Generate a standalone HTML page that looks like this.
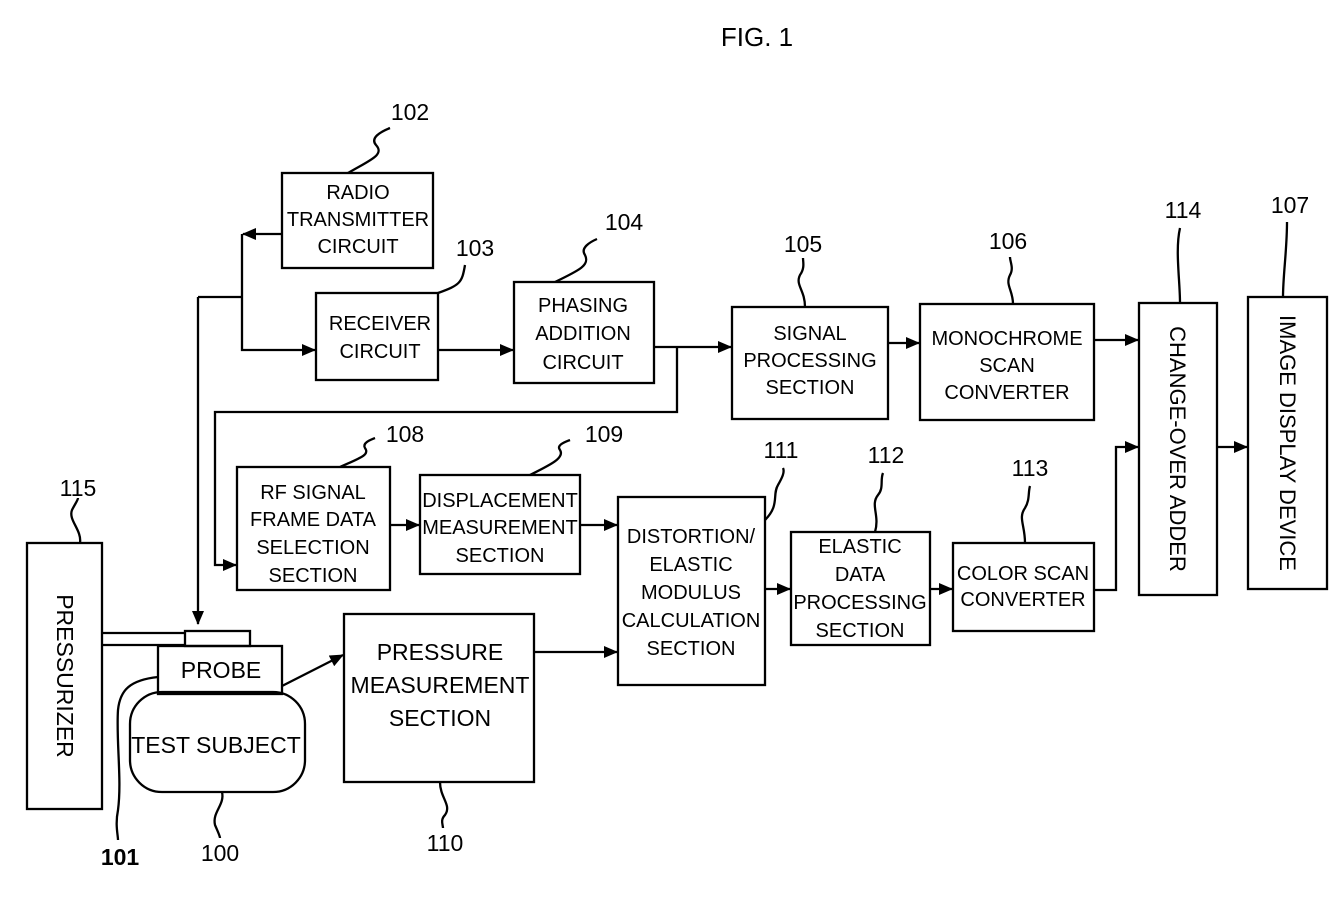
<!DOCTYPE html>
<html><head><style>
html,body{margin:0;padding:0;background:#fff;}
svg{display:block;}
text{font-family:"Liberation Sans",sans-serif;fill:#000;}
.b{font-size:20px;text-anchor:middle;}
.n{font-size:23px;text-anchor:middle;}
rect,path,line{stroke:#000;fill:none;stroke-width:2.3;}
</style></head><body>
<svg width="1335" height="898" viewBox="0 0 1335 898">
<defs><marker id="a" markerWidth="14" markerHeight="12" refX="13" refY="6" orient="auto" markerUnits="userSpaceOnUse"><path d="M0,0 L14,6 L0,12 Z" style="fill:#000;stroke:none"/></marker></defs>
<text x="757" y="46" class="n" style="font-size:26px">FIG. 1</text>

<rect x="282" y="173" width="151" height="95"/>
<text class="b" x="358" y="199">RADIO</text><text class="b" x="358" y="226">TRANSMITTER</text><text class="b" x="358" y="253">CIRCUIT</text>
<rect x="316" y="293" width="122" height="87"/>
<text class="b" x="380" y="330">RECEIVER</text><text class="b" x="380" y="358">CIRCUIT</text>
<rect x="514" y="282" width="140" height="101"/>
<text class="b" x="583" y="312">PHASING</text><text class="b" x="583" y="340">ADDITION</text><text class="b" x="583" y="369">CIRCUIT</text>
<rect x="732" y="307" width="156" height="112"/>
<text class="b" x="810" y="340">SIGNAL</text><text class="b" x="810" y="367">PROCESSING</text><text class="b" x="810" y="394">SECTION</text>
<rect x="920" y="304" width="174" height="116"/>
<text class="b" x="1007" y="345">MONOCHROME</text><text class="b" x="1007" y="372">SCAN</text><text class="b" x="1007" y="399">CONVERTER</text>
<rect x="1139" y="303" width="78" height="292"/>
<text class="b" transform="translate(1170,449) rotate(90)" style="font-size:22px">CHANGE-OVER ADDER</text>
<rect x="1248" y="297" width="79" height="292"/>
<text class="b" transform="translate(1280,443) rotate(90)" style="font-size:22px">IMAGE DISPLAY DEVICE</text>
<rect x="237" y="467" width="153" height="123"/>
<text class="b" x="313" y="499">RF SIGNAL</text><text class="b" x="313" y="526">FRAME DATA</text><text class="b" x="313" y="554">SELECTION</text><text class="b" x="313" y="582">SECTION</text>
<rect x="420" y="475" width="160" height="99"/>
<text class="b" x="500" y="507">DISPLACEMENT</text><text class="b" x="500" y="534">MEASUREMENT</text><text class="b" x="500" y="562">SECTION</text>
<rect x="618" y="497" width="147" height="188"/>
<text class="b" x="691" y="543">DISTORTION/</text><text class="b" x="691" y="571">ELASTIC</text><text class="b" x="691" y="599">MODULUS</text><text class="b" x="691" y="627">CALCULATION</text><text class="b" x="691" y="655">SECTION</text>
<rect x="791" y="532" width="139" height="113"/>
<text class="b" x="860" y="553">ELASTIC</text><text class="b" x="860" y="581">DATA</text><text class="b" x="860" y="609">PROCESSING</text><text class="b" x="860" y="637">SECTION</text>
<rect x="953" y="543" width="141" height="88"/>
<text class="b" x="1023" y="580">COLOR SCAN</text><text class="b" x="1023" y="606">CONVERTER</text>
<rect x="344" y="614" width="190" height="168"/>
<text class="b" x="440" y="660" style="font-size:23px">PRESSURE</text><text class="b" x="440" y="693" style="font-size:23px">MEASUREMENT</text><text class="b" x="440" y="726" style="font-size:23px">SECTION</text>
<rect x="27" y="543" width="75" height="266"/>
<text class="b" transform="translate(57,676) rotate(90)" style="font-size:23px">PRESSURIZER</text>
<rect x="185" y="631" width="65" height="15"/>
<line x1="102" y1="633" x2="185" y2="633"/><line x1="102" y1="645" x2="185" y2="645"/>
<rect x="158" y="646" width="124" height="48"/>
<text class="b" x="221" y="678" style="font-size:23px">PROBE</text>
<rect x="130" y="692" width="175" height="100" rx="32"/>
<text class="b" x="216" y="753" style="font-size:23px">TEST SUBJECT</text>

<path d="M198,297 L198,624" marker-end="url(#a)"/>
<path d="M198,297 L242,297"/>
<path d="M242,234 L242,350 L315,350" marker-end="url(#a)"/>
<path d="M282,234 L243,234" marker-end="url(#a)"/>
<path d="M438,350 L513,350" marker-end="url(#a)"/>
<path d="M654,347 L731,347" marker-end="url(#a)"/>
<path d="M677,347 L677,412 L215,412 L215,565 L236,565" marker-end="url(#a)"/>
<path d="M888,343 L919,343" marker-end="url(#a)"/>
<path d="M1094,340 L1138,340" marker-end="url(#a)"/>
<path d="M1094,590 L1116,590 L1116,447 L1138,447" marker-end="url(#a)"/>
<path d="M1217,447 L1247,447" marker-end="url(#a)"/>
<path d="M390,525 L419,525" marker-end="url(#a)"/>
<path d="M580,525 L617,525" marker-end="url(#a)"/>
<path d="M765,589 L790,589" marker-end="url(#a)"/>
<path d="M930,589 L952,589" marker-end="url(#a)"/>
<path d="M534,652 L617,652" marker-end="url(#a)"/>
<path d="M282,686 L343,655" marker-end="url(#a)"/>

<g style="stroke-width:1.5">
<path d="M348,173 C370,160 385,155 376,145 C370,138 380,132 390,128"/>
<path d="M438,293 C460,285 462,283 465,265"/>
<path d="M555,282 C580,270 590,265 585,255 C580,248 590,242 597,239"/>
<path d="M805,307 C805,290 795,285 800,275 C805,268 803,262 803,258"/>
<path d="M1013,304 C1013,290 1005,285 1010,275 C1014,268 1010,262 1010,257"/>
<path d="M1180,303 C1180,280 1175,250 1180,228"/>
<path d="M1283,297 C1283,275 1287,250 1287,222"/>
<path d="M340,467 C360,458 370,455 365,448 C362,443 370,440 375,438"/>
<path d="M530,475 C550,465 565,458 560,450 C556,445 565,442 570,440"/>
<path d="M765,520 C780,505 772,495 778,485 C782,478 785,472 783,468"/>
<path d="M875,532 C880,515 870,505 878,495 C884,488 880,480 883,473"/>
<path d="M1025,543 C1025,525 1018,518 1025,508 C1030,500 1028,492 1030,486"/>
<path d="M80,543 C82,530 68,520 72,510 C75,504 78,500 78,498"/>
<path d="M440,782 C440,798 452,805 445,815 C440,820 443,825 443,828"/>
<path d="M222,792 C225,805 212,812 215,825 C218,832 220,836 220,838"/>
<path d="M158,677 C130,680 120,690 118,710 C116,740 122,780 118,810 C115,825 118,835 118,840"/>
</g>

<text class="n" x="410" y="120">102</text>
<text class="n" x="475" y="256">103</text>
<text class="n" x="624" y="230">104</text>
<text class="n" x="803" y="252">105</text>
<text class="n" x="1008" y="249">106</text>
<text class="n" x="1183" y="218">114</text>
<text class="n" x="1290" y="213">107</text>
<text class="n" x="405" y="442">108</text>
<text class="n" x="604" y="442">109</text>
<text class="n" x="781" y="458">111</text>
<text class="n" x="886" y="463">112</text>
<text class="n" x="1030" y="476">113</text>
<text class="n" x="78" y="496">115</text>
<text class="n" x="445" y="851">110</text>
<text class="n" x="220" y="861">100</text>
<text class="n" x="120" y="865" style="font-weight:bold">101</text>
</svg>
</body></html>
